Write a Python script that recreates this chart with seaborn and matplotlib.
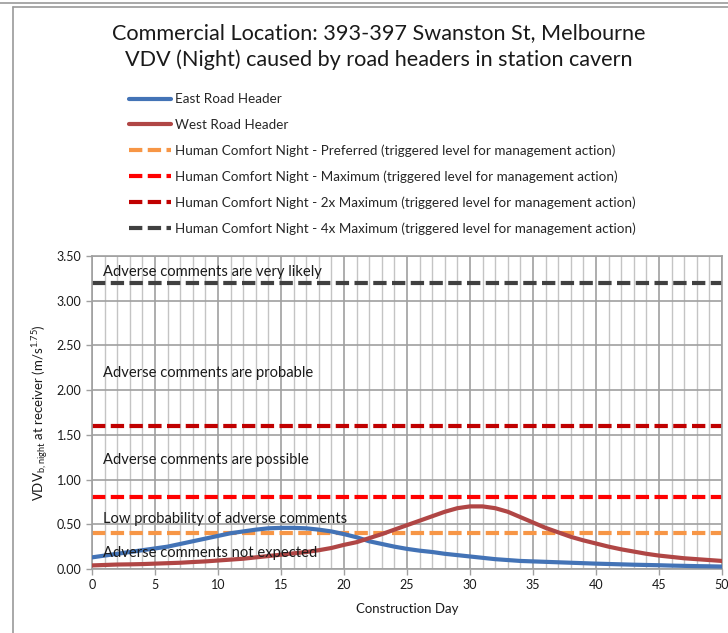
import matplotlib
matplotlib.use("Agg")
import matplotlib.pyplot as plt
from matplotlib.lines import Line2D
from matplotlib.ticker import MultipleLocator
import numpy as np
import pandas as pd
import seaborn as sns

# Construction days and VDV values for each road header
days = list(range(0, 51))
east_vdv = [0.13, 0.15, 0.17, 0.19, 0.21, 0.23, 0.25, 0.28, 0.31, 0.34,
            0.37, 0.40, 0.42, 0.44, 0.455, 0.46, 0.46, 0.455, 0.44, 0.42,
            0.39, 0.355, 0.31, 0.28, 0.25, 0.225, 0.205, 0.19, 0.17, 0.155,
            0.14, 0.125, 0.11, 0.10, 0.09, 0.085, 0.08, 0.075, 0.07, 0.065,
            0.06, 0.056, 0.052, 0.048, 0.045, 0.042, 0.038, 0.035, 0.032, 0.03,
            0.027]
west_vdv = [0.04, 0.045, 0.05, 0.052, 0.055, 0.06, 0.065, 0.07, 0.078, 0.085,
            0.095, 0.105, 0.115, 0.13, 0.145, 0.16, 0.175, 0.19, 0.21, 0.235,
            0.27, 0.30, 0.345, 0.39, 0.44, 0.49, 0.54, 0.59, 0.64, 0.68,
            0.70, 0.70, 0.68, 0.64, 0.58, 0.52, 0.46, 0.41, 0.36, 0.32,
            0.285, 0.25, 0.22, 0.195, 0.17, 0.15, 0.135, 0.12, 0.11, 0.10,
            0.09]

series_names = ["East Road Header", "West Road Header"]
series_colors = ["#4373B6", "#B04645"]

# Human comfort trigger levels (night)
threshold_names = [
    "Human Comfort Night - Preferred (triggered level for management action)",
    "Human Comfort Night - Maximum (triggered level for management action)",
    "Human Comfort Night - 2x Maximum (triggered level for management action)",
    "Human Comfort Night - 4x Maximum (triggered level for management action)",
]
threshold_values = [0.40, 0.80, 1.60, 3.20]
threshold_colors = ["#F79646", "#FF0000", "#C00000", "#404040"]

# Response bands written inside the plot
band_labels = [
    "Adverse comments are very likely",
    "Adverse comments are probable",
    "Adverse comments are possible",
    "Low probability of adverse comments",
    "Adverse comments not expected",
]
band_label_y = [3.32, 2.19, 1.22, 0.56, 0.18]

x_ticks = list(range(0, 51, 5))
y_ticks = [0.0, 0.5, 1.0, 1.5, 2.0, 2.5, 3.0, 3.5]

sns.set_theme(style="white")
plt.rcParams["font.family"] = ["Lato", "DejaVu Sans"]
plt.rcParams["mathtext.default"] = "regular"

df = pd.DataFrame({
    "Construction Day": days * 2,
    "VDV": east_vdv + west_vdv,
    "Header": [series_names[0]] * len(days) + [series_names[1]] * len(days),
})

fig = plt.figure(figsize=(7.28, 6.33), dpi=100)
ax = fig.add_axes([92 / 728, 64 / 633, 630 / 728, 313 / 633])

# frame around the chart area
fig.add_artist(plt.Line2D([0, 1], [1 - 3 / 633, 1 - 3 / 633], color="#9a9a9a", lw=1.2))
fig.add_artist(plt.Line2D([13 / 728, 1], [1 - 7 / 633, 1 - 7 / 633], color="#9a9a9a", lw=1.2))
fig.add_artist(plt.Line2D([13 / 728, 13 / 728], [0, 1 - 7 / 633], color="#9a9a9a", lw=1.2))

ax.set_xlim(0, 50)
ax.set_ylim(0, 3.5)
ax.xaxis.set_major_locator(MultipleLocator(5))
ax.xaxis.set_minor_locator(MultipleLocator(1))
ax.set_yticks(y_ticks)
ax.set_xticks(x_ticks)
ax.grid(which="minor", axis="x", color="#c4c4c4", lw=1.0)
ax.grid(which="major", axis="x", color="#a0a0a0", lw=1.2)
ax.grid(which="major", axis="y", color="#a0a0a0", lw=1.2)
ax.set_axisbelow(True)
for side in ["top", "right", "left", "bottom"]:
    ax.spines[side].set_color("#a0a0a0")
    ax.spines[side].set_linewidth(1.2)

dash = (3.2, 1.3)
for val, col in zip(threshold_values, threshold_colors):
    ax.axhline(val, color=col, lw=3, dashes=dash, zorder=2)

sns.lineplot(data=df, x="Construction Day", y="VDV", hue="Header",
             palette=series_colors, linewidth=3, legend=False, ax=ax, zorder=3)

for txt, yv in zip(band_labels, band_label_y):
    ax.text(0.85, yv, txt, fontsize=10.6, va="center", ha="left", color="#1a1a1a", zorder=4)

ax.tick_params(axis="both", which="major", labelsize=9, colors="#1a1a1a",
               length=4, width=1, color="#a0a0a0", direction="out", left=True, bottom=True)
ax.yaxis.set_major_formatter(matplotlib.ticker.FormatStrFormatter("%.2f"))
ax.set_xlabel("Construction Day", fontsize=9.5, color="#1a1a1a", labelpad=8)
ax.set_ylabel(r"VDV$_{b,night}$ at receiver (m/s$^{1.75}$)", fontsize=9.5,
              color="#1a1a1a", labelpad=4)

fig.text(0.520, 1 - 33 / 633, "Commercial Location: 393-397 Swanston St, Melbourne",
         ha="center", va="center", fontsize=15.6, color="#1a1a1a")
fig.text(0.520, 1 - 60 / 633, "VDV (Night) caused by road headers in station cavern",
         ha="center", va="center", fontsize=15.6, color="#1a1a1a")

handles = [Line2D([], [], color=c, lw=3) for c in series_colors]
handles += [Line2D([], [], color=c, lw=3, dashes=dash) for c in threshold_colors]
labels = series_names + threshold_names
fig.legend(handles, labels, loc="upper left", bbox_to_anchor=(124 / 728, 1 - 88 / 633),
           frameon=False, fontsize=9.7, handlelength=3.1, handletextpad=0.3,
           labelspacing=1.0, borderaxespad=0)

fig.savefig("out.png", dpi=100, facecolor="white")
